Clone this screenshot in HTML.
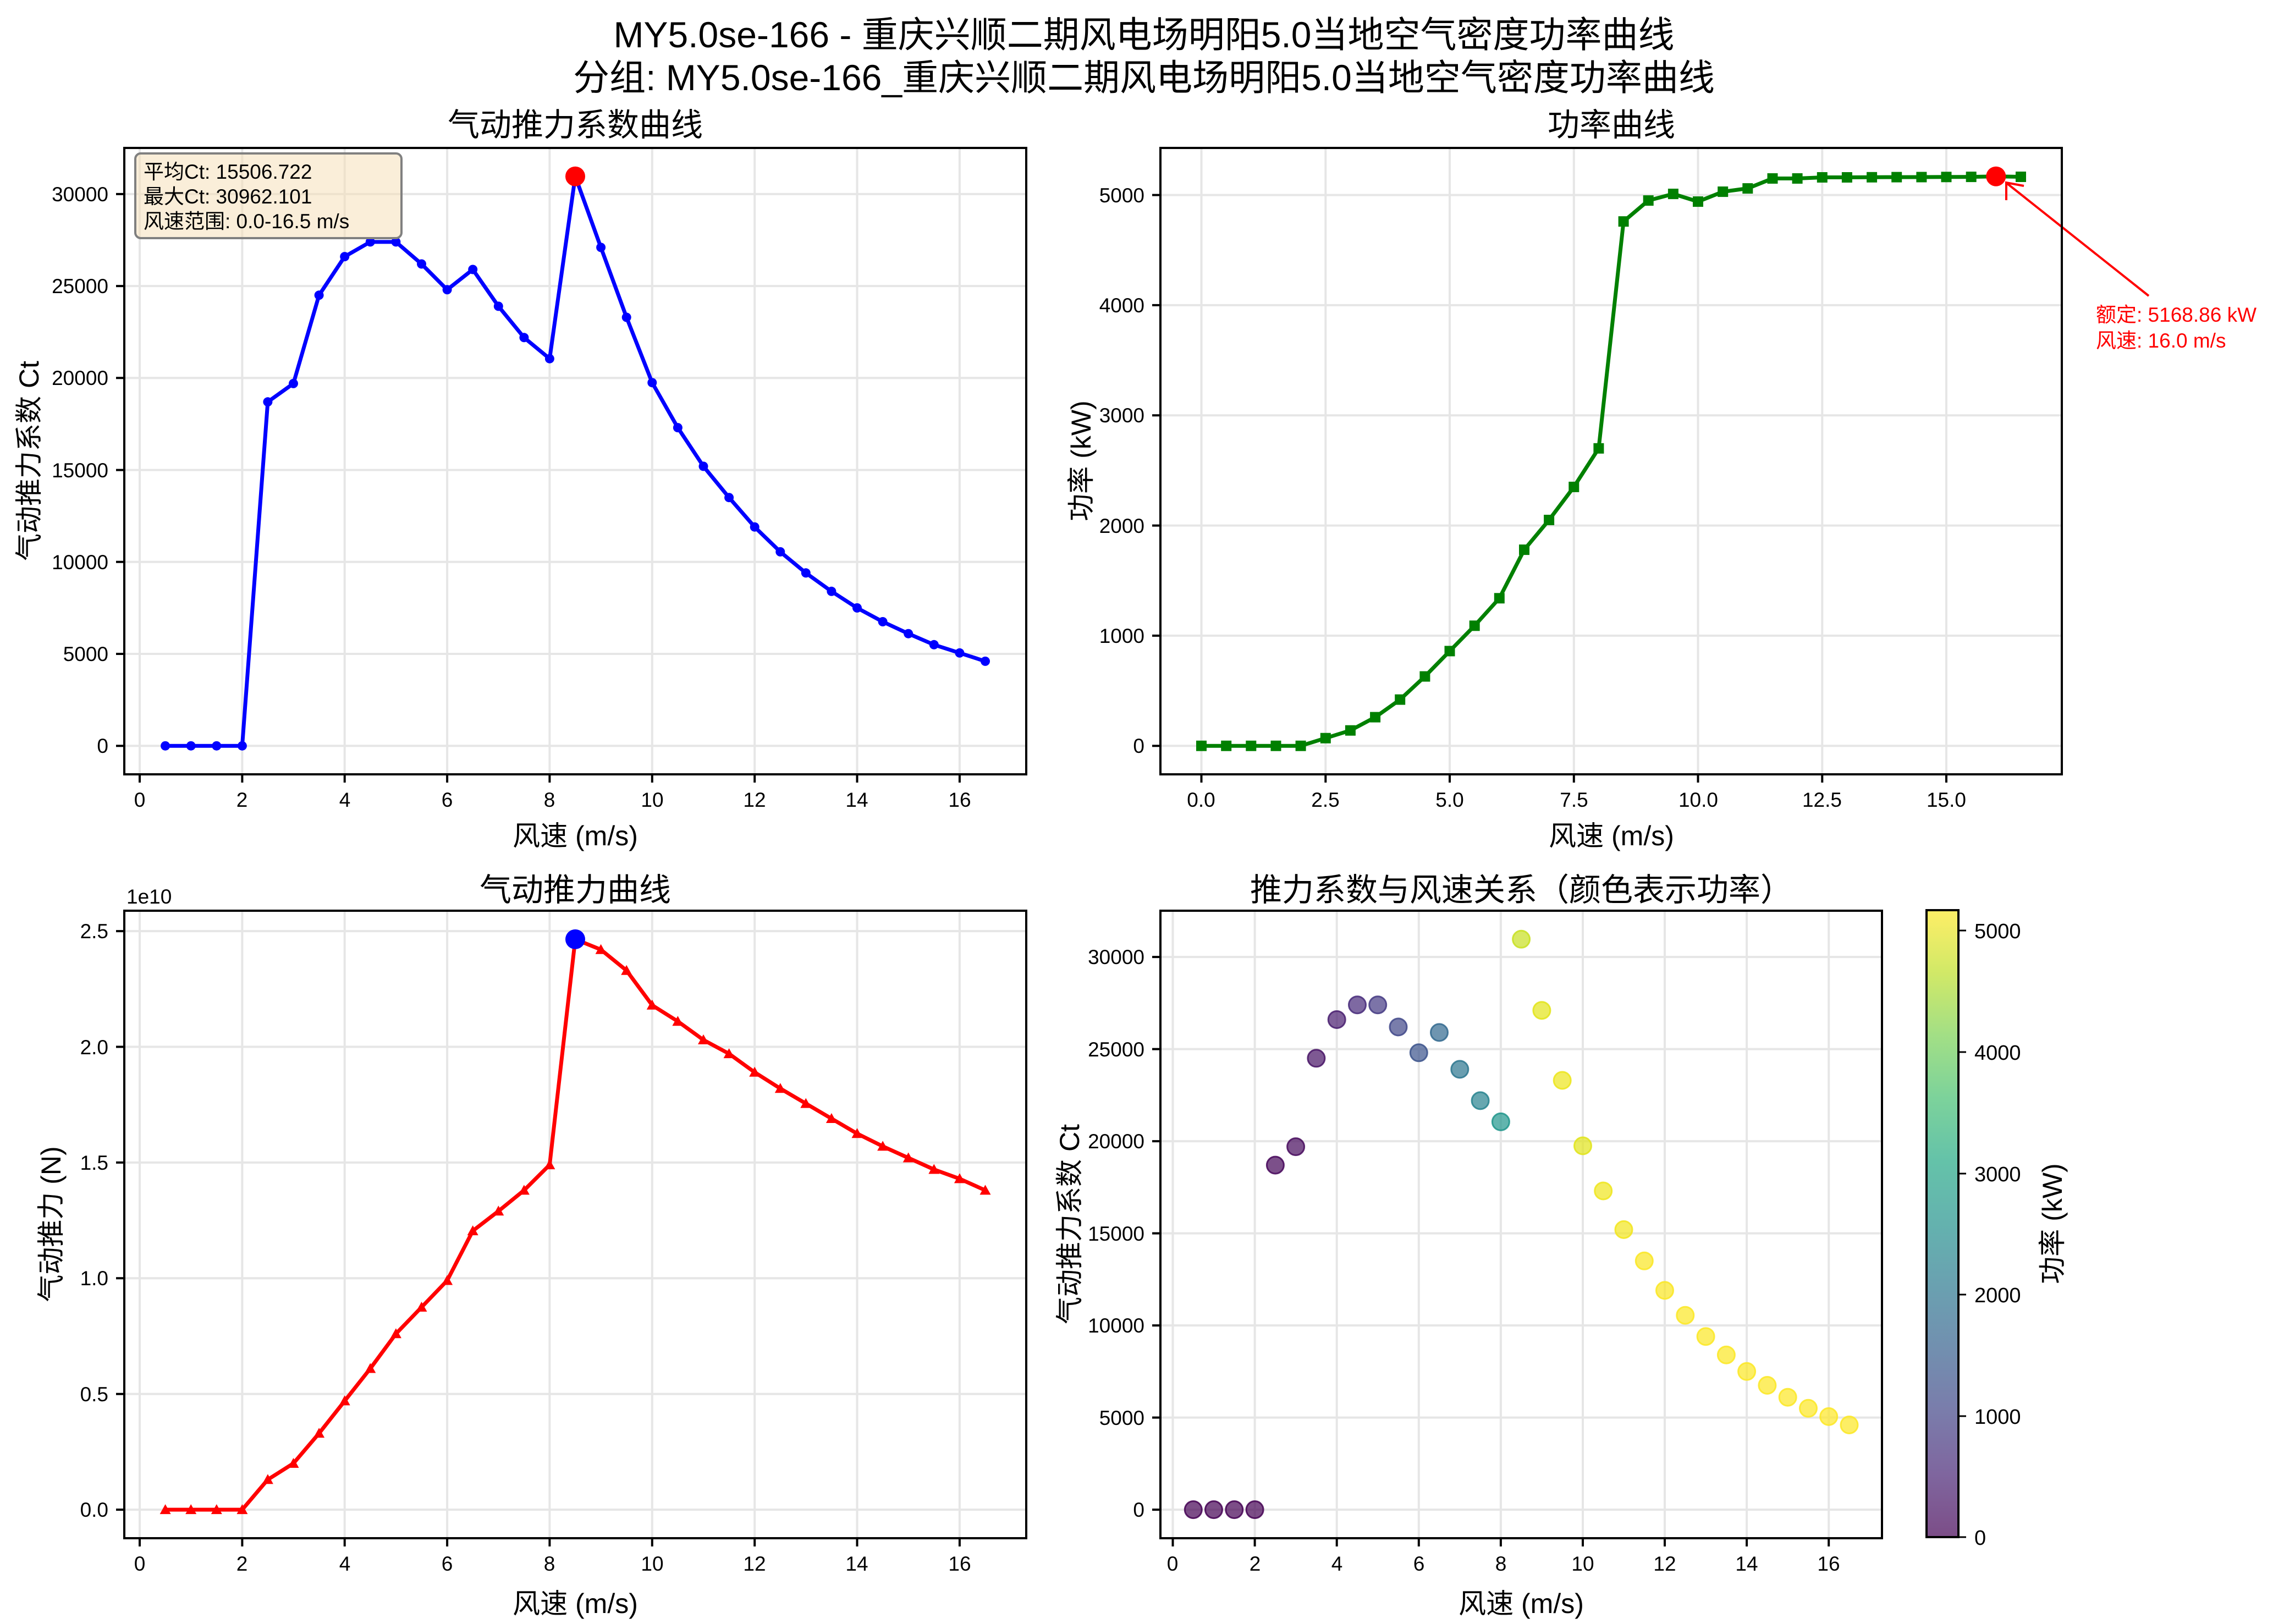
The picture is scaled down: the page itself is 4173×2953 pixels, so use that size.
<!DOCTYPE html>
<html><head><meta charset="utf-8">
<style>
html,body{margin:0;padding:0;background:#fff;}
svg{display:block;}
text{font-family:"Liberation Sans","Noto Sans CJK SC",sans-serif;fill:#000;}
.tk{font-size:37px;}
.lb{font-size:50px;}
.tt{font-size:58px;}
.mt{font-size:66px;}
.cb{font-size:38px;font-family:"DejaVu Sans",sans-serif;}
</style></head>
<body>
<svg xmlns="http://www.w3.org/2000/svg" width="4173" height="2953" viewBox="0 0 4173 2953">
<defs>
<marker id="mb" markerUnits="userSpaceOnUse" markerWidth="20" markerHeight="20" refX="10" refY="10" viewBox="0 0 20 20" overflow="visible"><circle cx="10" cy="10" r="8.5" fill="#0000ff"/></marker>
<marker id="mg" markerUnits="userSpaceOnUse" markerWidth="20" markerHeight="20" refX="10" refY="10" viewBox="0 0 20 20" overflow="visible"><rect x="0.5" y="0.5" width="19" height="19" fill="#008000"/></marker>
<marker id="mr" markerUnits="userSpaceOnUse" markerWidth="22" markerHeight="22" refX="11" refY="11" viewBox="0 0 22 22" overflow="visible"><polygon points="11,1 1,19 21,19" fill="#ff0000"/></marker>
<linearGradient id="vir" x1="0" y1="1" x2="0" y2="0">
<stop offset="0" stop-color="#440154"/><stop offset="0.1" stop-color="#482475"/><stop offset="0.2" stop-color="#414487"/><stop offset="0.3" stop-color="#355f8d"/><stop offset="0.4" stop-color="#2a788e"/><stop offset="0.5" stop-color="#21918c"/><stop offset="0.6" stop-color="#22a884"/><stop offset="0.7" stop-color="#44bf70"/><stop offset="0.8" stop-color="#7ad151"/><stop offset="0.9" stop-color="#bddf26"/><stop offset="1" stop-color="#fde725"/>
</linearGradient>
</defs>
<rect width="4173" height="2953" fill="#fff"/>

<!-- grids -->
<g stroke="#e6e6e6" stroke-width="4">
<!-- axes1 -->
<path d="M254,269V1408M440.4,269V1408M626.7,269V1408M813.1,269V1408M999.4,269V1408M1185.8,269V1408M1372.2,269V1408M1558.5,269V1408M1744.9,269V1408"/>
<path d="M226,1356.2H1866M226,1189H1866M226,1021.8H1866M226,854.6H1866M226,687.3H1866M226,520.1H1866M226,352.9H1866"/>
<!-- axes2 -->
<path d="M2184.5,269V1408M2410.3,269V1408M2636,269V1408M2861.8,269V1408M3087.5,269V1408M3313.3,269V1408M3539,269V1408"/>
<path d="M2110,1356.2H3749M2110,1155.9H3749M2110,955.6H3749M2110,755.2H3749M2110,554.9H3749M2110,354.6H3749"/>
<!-- axes3 -->
<path d="M254,1656V2797M440.4,1656V2797M626.7,1656V2797M813.1,1656V2797M999.4,1656V2797M1185.8,1656V2797M1372.2,1656V2797M1558.5,1656V2797M1744.9,1656V2797"/>
<path d="M226,2745.1H1866M226,2534.7H1866M226,2324.3H1866M226,2113.9H1866M226,1903.5H1866M226,1693.1H1866"/>
<!-- axes4 -->
<path d="M2132.5,1656V2797M2281.6,1656V2797M2430.7,1656V2797M2579.8,1656V2797M2728.9,1656V2797M2878,1656V2797M3027,1656V2797M3176.1,1656V2797M3325.2,1656V2797"/>
<path d="M2110,2745.1H3422M2110,2577.6H3422M2110,2410.1H3422M2110,2242.6H3422M2110,2075.1H3422M2110,1907.6H3422M2110,1740.1H3422"/>
</g>

<!-- ticks -->
<g stroke="#000" stroke-width="4">
<path d="M254,1408v15M440.4,1408v15M626.7,1408v15M813.1,1408v15M999.4,1408v15M1185.8,1408v15M1372.2,1408v15M1558.5,1408v15M1744.9,1408v15"/>
<path d="M211,1356.2h15M211,1189h15M211,1021.8h15M211,854.6h15M211,687.3h15M211,520.1h15M211,352.9h15"/>
<path d="M2184.5,1408v15M2410.3,1408v15M2636,1408v15M2861.8,1408v15M3087.5,1408v15M3313.3,1408v15M3539,1408v15"/>
<path d="M2095,1356.2h15M2095,1155.9h15M2095,955.6h15M2095,755.2h15M2095,554.9h15M2095,354.6h15"/>
<path d="M254,2797v15M440.4,2797v15M626.7,2797v15M813.1,2797v15M999.4,2797v15M1185.8,2797v15M1372.2,2797v15M1558.5,2797v15M1744.9,2797v15"/>
<path d="M211,2745.1h15M211,2534.7h15M211,2324.3h15M211,2113.9h15M211,1903.5h15M211,1693.1h15"/>
<path d="M2132.5,2797v15M2281.6,2797v15M2430.7,2797v15M2579.8,2797v15M2728.9,2797v15M2878,2797v15M3027,2797v15M3176.1,2797v15M3325.2,2797v15"/>
<path d="M2095,2745.1h15M2095,2577.6h15M2095,2410.1h15M2095,2242.6h15M2095,2075.1h15M2095,1907.6h15M2095,1740.1h15"/>
</g>

<!-- Ct curve -->
<polyline fill="none" stroke="#0000ff" stroke-width="7" stroke-linejoin="round" marker-start="url(#mb)" marker-mid="url(#mb)" marker-end="url(#mb)"
points="300.6,1356.2 347.2,1356.2 393.8,1356.2 440.4,1356.2 486.9,730.8 533.5,697.4 580.1,536.8 626.7,466.6 673.3,439.9 719.9,439.9 766.5,480.0 813.1,526.8 859.7,490.0 906.3,556.9 952.9,613.8 999.4,652.2 1046.0,320.7 1092.6,449.9 1139.2,577.0 1185.8,695.7 1232.4,777.6 1279.0,847.9 1325.6,904.7 1372.2,958.2 1418.8,1003.4 1465.3,1041.8 1511.9,1075.3 1558.5,1105.4 1605.1,1130.5 1651.7,1152.2 1698.3,1172.3 1744.9,1187.3 1791.5,1202.4"/>
<circle cx="1046" cy="320.7" r="18" fill="#ff0000"/>

<!-- Power curve -->
<polyline fill="none" stroke="#008000" stroke-width="7" stroke-linejoin="round" marker-start="url(#mg)" marker-mid="url(#mg)" marker-end="url(#mg)"
points="2184.5,1356.2 2229.7,1356.2 2274.8,1356.2 2320.0,1356.2 2365.1,1356.2 2410.3,1342.2 2455.4,1328.2 2500.6,1304.1 2545.7,1272.1 2590.9,1230.0 2636.0,1183.9 2681.2,1137.8 2726.3,1087.8 2771.5,999.6 2816.6,945.5 2861.8,885.4 2906.9,815.3 2952.1,402.7 2997.2,364.6 3042.4,352.6 3087.5,366.6 3132.7,348.6 3177.8,342.6 3223.0,324.5 3268.1,324.5 3313.3,322.5 3358.4,322.5 3403.6,322.3 3448.7,322.1 3493.9,322 3539.0,321.8 3584.2,321.6 3629.3,320.7 3674.5,321.5"/>
<circle cx="3629.3" cy="320.7" r="18" fill="#ff0000"/>
<line x1="3907" y1="538" x2="3650" y2="334" stroke="#ff0000" stroke-width="4"/>
<polyline points="3648,364 3648,332 3680,338" fill="none" stroke="#ff0000" stroke-width="4"/>

<!-- Thrust curve -->
<polyline fill="none" stroke="#ff0000" stroke-width="7" stroke-linejoin="round" marker-start="url(#mr)" marker-mid="url(#mr)" marker-end="url(#mr)"
points="300.6,2745.1 347.2,2745.1 393.8,2745.1 440.4,2745.1 486.9,2690.4 533.5,2661.0 580.1,2606.3 626.7,2547.4 673.3,2488.5 719.9,2425.3 766.5,2377.0 813.1,2328.5 859.7,2238.1 906.3,2202.3 952.9,2164.4 999.4,2118.1 1046.0,1707.9 1092.6,1726.8 1139.2,1764.7 1185.8,1827.8 1232.4,1857.2 1279.0,1890.9 1325.6,1916.1 1372.2,1949.8 1418.8,1979.3 1465.3,2006.6 1511.9,2034.0 1558.5,2061.3 1605.1,2084.4 1651.7,2105.5 1698.3,2126.5 1744.9,2143.4 1791.5,2164.4"/>
<circle cx="1046" cy="1707.9" r="18" fill="#0000ff"/>

<!-- Scatter -->
<g fill-opacity="0.7" stroke-width="3" stroke-opacity="0.85">
<circle cx="2169.8" cy="2745.1" r="15.5" fill="#440154" stroke="#440154"/>
<circle cx="2207.0" cy="2745.1" r="15.5" fill="#440154" stroke="#440154"/>
<circle cx="2244.3" cy="2745.1" r="15.5" fill="#440154" stroke="#440154"/>
<circle cx="2281.6" cy="2745.1" r="15.5" fill="#440154" stroke="#440154"/>
<circle cx="2318.9" cy="2118.6" r="15.5" fill="#450559" stroke="#450559"/>
<circle cx="2356.1" cy="2085.1" r="15.5" fill="#460a5d" stroke="#460a5d"/>
<circle cx="2393.4" cy="1924.3" r="15.5" fill="#471365" stroke="#471365"/>
<circle cx="2430.7" cy="1854.0" r="15.5" fill="#481d6f" stroke="#481d6f"/>
<circle cx="2468.0" cy="1827.2" r="15.5" fill="#472a7a" stroke="#472a7a"/>
<circle cx="2505.2" cy="1827.2" r="15.5" fill="#443983" stroke="#443983"/>
<circle cx="2542.5" cy="1867.4" r="15.5" fill="#404688" stroke="#404688"/>
<circle cx="2579.8" cy="1914.3" r="15.5" fill="#3b528b" stroke="#3b528b"/>
<circle cx="2617.0" cy="1877.4" r="15.5" fill="#31688e" stroke="#31688e"/>
<circle cx="2654.3" cy="1944.4" r="15.5" fill="#2b758e" stroke="#2b758e"/>
<circle cx="2691.6" cy="2001.4" r="15.5" fill="#26828e" stroke="#26828e"/>
<circle cx="2728.9" cy="2039.9" r="15.5" fill="#20958b" stroke="#20958b"/>
<circle cx="2766.1" cy="1707.8" r="15.5" fill="#c8e020" stroke="#c8e020"/>
<circle cx="2803.4" cy="1837.2" r="15.5" fill="#e2e418" stroke="#e2e418"/>
<circle cx="2840.7" cy="1964.5" r="15.5" fill="#ece51b" stroke="#ece51b"/>
<circle cx="2878.0" cy="2083.5" r="15.5" fill="#e1e419" stroke="#e1e419"/>
<circle cx="2915.2" cy="2165.5" r="15.5" fill="#efe51c" stroke="#efe51c"/>
<circle cx="2952.5" cy="2235.9" r="15.5" fill="#f2e51d" stroke="#f2e51d"/>
<circle cx="2989.8" cy="2292.8" r="15.5" fill="#fae622" stroke="#fae622"/>
<circle cx="3027.0" cy="2346.4" r="15.5" fill="#fae622" stroke="#fae622"/>
<circle cx="3064.3" cy="2391.7" r="15.5" fill="#fbe723" stroke="#fbe723"/>
<circle cx="3101.6" cy="2430.2" r="15.5" fill="#fbe723" stroke="#fbe723"/>
<circle cx="3138.9" cy="2463.7" r="15.5" fill="#fbe723" stroke="#fbe723"/>
<circle cx="3176.1" cy="2493.8" r="15.5" fill="#fbe723" stroke="#fbe723"/>
<circle cx="3213.4" cy="2519.0" r="15.5" fill="#fce724" stroke="#fce724"/>
<circle cx="3250.7" cy="2540.7" r="15.5" fill="#fce724" stroke="#fce724"/>
<circle cx="3288.0" cy="2560.8" r="15.5" fill="#fce724" stroke="#fce724"/>
<circle cx="3325.2" cy="2575.9" r="15.5" fill="#fde725" stroke="#fde725"/>
<circle cx="3362.5" cy="2591.0" r="15.5" fill="#fce724" stroke="#fce724"/>
</g>

<!-- main titles -->
<text class="mt" x="2080" y="86" text-anchor="middle">MY5.0se-166 - 重庆兴顺二期风电场明阳5.0当地空气密度功率曲线</text>
<text class="mt" x="2080" y="164" text-anchor="middle">分组: MY5.0se-166_重庆兴顺二期风电场明阳5.0当地空气密度功率曲线</text>

<!-- subplot titles -->
<text class="tt" x="1046" y="247" text-anchor="middle">气动推力系数曲线</text>
<text class="tt" x="2930" y="247" text-anchor="middle">功率曲线</text>
<text class="tt" x="1046" y="1638" text-anchor="middle">气动推力曲线</text>
<text class="tt" x="2766" y="1638" text-anchor="middle">推力系数与风速关系（颜色表示功率）</text>

<!-- axes frames -->
<g fill="none" stroke="#000" stroke-width="4">
<rect x="226" y="269" width="1640" height="1139"/>
<rect x="2110" y="269" width="1639" height="1139"/>
<rect x="226" y="1656" width="1640" height="1141"/>
<rect x="2110" y="1656" width="1312" height="1141"/>
</g>

<!-- Axes 1 tick labels -->
<g class="tk" text-anchor="end">
<text x="197" y="1369">0</text><text x="197" y="1202">5000</text><text x="197" y="1035">10000</text><text x="197" y="868">15000</text><text x="197" y="700">20000</text><text x="197" y="533">25000</text><text x="197" y="366">30000</text>
</g>
<g class="tk" text-anchor="middle">
<text x="254" y="1467">0</text><text x="440" y="1467">2</text><text x="627" y="1467">4</text><text x="813" y="1467">6</text><text x="999" y="1467">8</text><text x="1186" y="1467">10</text><text x="1372" y="1467">12</text><text x="1558" y="1467">14</text><text x="1745" y="1467">16</text>
</g>
<text class="lb" x="1046" y="1537" text-anchor="middle">风速 (m/s)</text>
<text class="lb" transform="translate(70,838) rotate(-90)" text-anchor="middle">气动推力系数 Ct</text>

<!-- Axes 2 tick labels -->
<g class="tk" text-anchor="end">
<text x="2081" y="1369">0</text><text x="2081" y="1169">1000</text><text x="2081" y="969">2000</text><text x="2081" y="768">3000</text><text x="2081" y="568">4000</text><text x="2081" y="368">5000</text>
</g>
<g class="tk" text-anchor="middle">
<text x="2184" y="1467">0.0</text><text x="2410" y="1467">2.5</text><text x="2636" y="1467">5.0</text><text x="2862" y="1467">7.5</text><text x="3088" y="1467">10.0</text><text x="3313" y="1467">12.5</text><text x="3539" y="1467">15.0</text>
</g>
<text class="lb" x="2930" y="1537" text-anchor="middle">风速 (m/s)</text>
<text class="lb" transform="translate(1983,838) rotate(-90)" text-anchor="middle">功率 (kW)</text>
<text class="tk" x="3811" y="585" style="fill:#f00">额定: 5168.86 kW</text>
<text class="tk" x="3811" y="632" style="fill:#f00">风速: 16.0 m/s</text>

<!-- Axes 3 tick labels -->
<text class="tk" x="230" y="1643">1e10</text>
<g class="tk" text-anchor="end">
<text x="197" y="2758">0.0</text><text x="197" y="2548">0.5</text><text x="197" y="2337">1.0</text><text x="197" y="2127">1.5</text><text x="197" y="1917">2.0</text><text x="197" y="1706">2.5</text>
</g>
<g class="tk" text-anchor="middle">
<text x="254" y="2856">0</text><text x="440" y="2856">2</text><text x="627" y="2856">4</text><text x="813" y="2856">6</text><text x="999" y="2856">8</text><text x="1186" y="2856">10</text><text x="1372" y="2856">12</text><text x="1558" y="2856">14</text><text x="1745" y="2856">16</text>
</g>
<text class="lb" x="1046" y="2933" text-anchor="middle">风速 (m/s)</text>
<text class="lb" transform="translate(110,2226) rotate(-90)" text-anchor="middle">气动推力 (N)</text>

<!-- Axes 4 tick labels -->
<g class="tk" text-anchor="end">
<text x="2081" y="2758">0</text><text x="2081" y="2591">5000</text><text x="2081" y="2423">10000</text><text x="2081" y="2256">15000</text><text x="2081" y="2088">20000</text><text x="2081" y="1921">25000</text><text x="2081" y="1753">30000</text>
</g>
<g class="tk" text-anchor="middle">
<text x="2132" y="2856">0</text><text x="2282" y="2856">2</text><text x="2431" y="2856">4</text><text x="2580" y="2856">6</text><text x="2729" y="2856">8</text><text x="2878" y="2856">10</text><text x="3027" y="2856">12</text><text x="3176" y="2856">14</text><text x="3325" y="2856">16</text>
</g>
<text class="lb" x="2766" y="2933" text-anchor="middle">风速 (m/s)</text>
<text class="lb" transform="translate(1962,2226) rotate(-90)" text-anchor="middle">气动推力系数 Ct</text>

<!-- colorbar -->
<rect x="3503" y="1655" width="58" height="1140" fill="url(#vir)" opacity="0.7"/>
<rect x="3503" y="1655" width="58" height="1140" fill="none" stroke="#000" stroke-width="4"/>
<g stroke="#000" stroke-width="3">
<path d="M3561,2795h14M3561,2575h14M3561,2354h14M3561,2134h14M3561,1913h14M3561,1692h14"/>
</g>
<g class="cb">
<text x="3590" y="2809">0</text><text x="3590" y="2589">1000</text><text x="3590" y="2368">2000</text><text x="3590" y="2148">3000</text><text x="3590" y="1927">4000</text><text x="3590" y="1706">5000</text>
</g>
<text class="lb" transform="translate(3749,2225) rotate(-90)" text-anchor="middle">功率 (kW)</text>

<!-- text box axes 1 -->
<rect x="246" y="279" width="484" height="154" rx="10" fill="#f5deb3" fill-opacity="0.5" stroke="#808080" stroke-width="4"/>
<text class="tk" x="261" y="325">平均Ct: 15506.722</text>
<text class="tk" x="261" y="370">最大Ct: 30962.101</text>
<text class="tk" x="261" y="415">风速范围: 0.0-16.5 m/s</text>
</svg>
</body></html>
